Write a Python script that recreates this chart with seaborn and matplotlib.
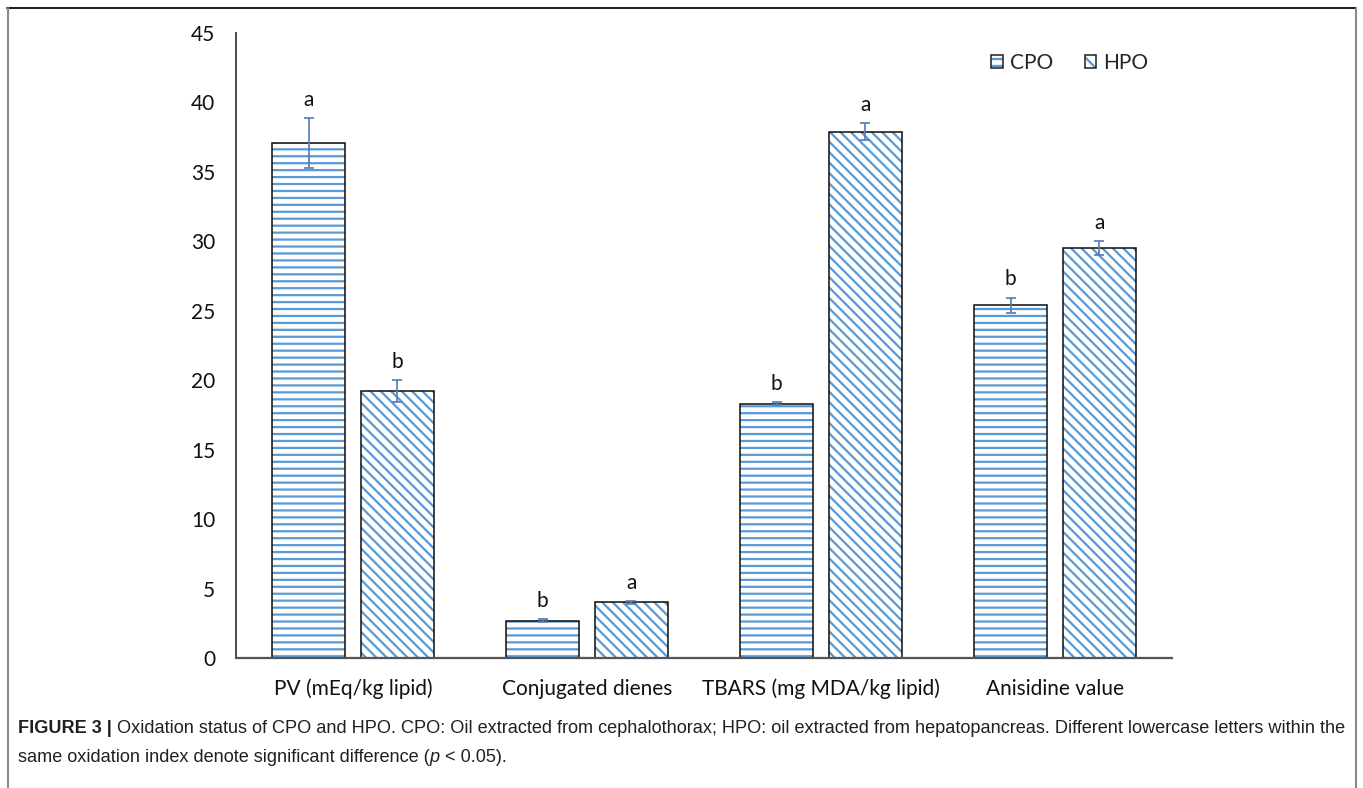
import numpy as np
import pandas as pd
import matplotlib
matplotlib.use("Agg")
import matplotlib.pyplot as plt
from matplotlib.lines import Line2D
from matplotlib.patches import Patch
from matplotlib.legend_handler import HandlerTuple
import seaborn as sns

# ---- data ----
categories = ["PV (mEq/kg lipid)", "Conjugated dienes",
              "TBARS (mg MDA/kg lipid)", "Anisidine value"]
oils = ["CPO", "HPO"]
cpo_values = [37.1, 2.7, 18.3, 25.4]
hpo_values = [19.2, 4.0, 37.9, 29.5]
cpo_errors = [1.8, 0.08, 0.1, 0.55]
hpo_errors = [0.8, 0.1, 0.6, 0.5]
cpo_letters = ["a", "b", "b", "b"]
hpo_letters = ["b", "a", "a", "a"]
y_ticks = [0, 5, 10, 15, 20, 25, 30, 35, 40, 45]

caption_bold = "FIGURE 3 |"
caption_line1 = (" Oxidation status of CPO and HPO. CPO: Oil extracted from cephalothorax; "
                 "HPO: oil extracted from hepatopancreas. Different lowercase letters within the")
caption_line2 = ["same oxidation index denote significant difference (", "p", " < 0.05)."]

BLUE = "#5B9BD5"
ERR = "#5a7db8"

sns.set_theme(style="white")
plt.rcParams["font.family"] = ["Lato", "DejaVu Sans"]
plt.rcParams["hatch.linewidth"] = 1.3

df = pd.DataFrame({
    "category": categories * 2,
    "oil": [oils[0]] * 4 + [oils[1]] * 4,
    "value": cpo_values + hpo_values,
})

DPI = 125
fig = plt.figure(figsize=(1363 / DPI, 788 / DPI), dpi=DPI)
ax = fig.add_axes([236 / 1363, 1 - 658 / 788, (1172 - 236) / 1363, (658 - 33) / 788])

# hatched fill
sns.barplot(data=df, x="category", y="value", hue="oil", hue_order=oils,
            order=categories, palette={o: "white" for o in oils},
            width=0.76, gap=0.184, errorbar=None, legend=False,
            saturation=1, linewidth=0, ax=ax)
hatches = ["---", "\\\\\\\\"]
fill_containers = list(ax.containers)
for cont, h in zip(fill_containers, hatches):
    for bar in cont:
        bar.set_hatch(h)
        bar.set_edgecolor(BLUE)
        bar.set_linewidth(0)

# black outlines
sns.barplot(data=df, x="category", y="value", hue="oil", hue_order=oils,
            order=categories, palette={o: "#111111" for o in oils},
            width=0.76, gap=0.184, errorbar=None, legend=False,
            fill=False, linewidth=0.9, ax=ax)

# error bars and significance letters
for cont, vals, errs, letters in zip(fill_containers,
                                     [cpo_values, hpo_values],
                                     [cpo_errors, hpo_errors],
                                     [cpo_letters, hpo_letters]):
    xs = [b.get_x() + b.get_width() / 2 for b in cont]
    ax.errorbar(xs, vals, yerr=errs, fmt="none", ecolor=ERR,
                elinewidth=1.0, capsize=2.6, capthick=1.0, zorder=5)
    for x, v, e, t in zip(xs, vals, errs, letters):
        ax.annotate(t, (x, v + e), xytext=(0, 7), textcoords="offset points",
                    ha="center", va="baseline", fontsize=12, color="#111111")

ax.set_xlim(-0.5, 3.5)
ax.set_ylim(0, 45)
ax.set_yticks(y_ticks)
ax.set_yticklabels([str(t) for t in y_ticks])
ax.set_xlabel("")
ax.set_ylabel("")
ax.tick_params(axis="y", length=0, pad=12, labelsize=12, labelcolor="#111111")
ax.tick_params(axis="x", length=0, pad=12, labelsize=12, labelcolor="#111111")
for s in ["top", "right"]:
    ax.spines[s].set_visible(False)
ax.spines["left"].set_color("#444444")
ax.spines["left"].set_linewidth(1.1)
ax.spines["bottom"].set_color("#555555")
ax.spines["bottom"].set_linewidth(1.3)

# legend: hatched swatch with a thin dark outline on top
handles = []
for h in ["---", "\\\\\\"]:
    swatch = Patch(facecolor="white", edgecolor=BLUE, hatch=h, linewidth=0)
    outline = Patch(facecolor="none", edgecolor="#222222", linewidth=0.9)
    handles.append((swatch, outline))
leg = fig.legend(handles, oils, loc="center left",
                 handler_map={tuple: HandlerTuple(ndivide=1, pad=0)},
                 bbox_to_anchor=(981 / 1363, 1 - 63 / 788), ncol=2, frameon=False,
                 handlelength=0.55, handleheight=0.55, handletextpad=0.35,
                 columnspacing=1.5, fontsize=12, borderpad=0)

# figure frame
fig.add_artist(Line2D([7 / 1363, 1356 / 1363], [1 - 8 / 788, 1 - 8 / 788],
                      transform=fig.transFigure, color="#222222", lw=1.2))
for xp in [7.5, 1355.5]:
    fig.add_artist(Line2D([xp / 1363, xp / 1363], [0, 1 - 8 / 788],
                          transform=fig.transFigure, color="#888888", lw=1.2))

# caption
cap_font = ["Liberation Sans Narrow", "Liberation Sans", "DejaVu Sans"]
cap_size = 10.45
cap_color = "#231f20"
fig.canvas.draw()
renderer = fig.canvas.get_renderer()


def chain(pieces, x0, y):
    x = x0
    for txt, kw in pieces:
        t = fig.text(x, y, txt, family=cap_font, fontsize=cap_size,
                     color=cap_color, ha="left", va="baseline", **kw)
        bb = t.get_window_extent(renderer)
        x = x + bb.width / fig.bbox.width


chain([(caption_bold, {"weight": "bold"}), (caption_line1, {})],
      18 / 1363, 1 - 733 / 788)
chain([(caption_line2[0], {}), (caption_line2[1], {"style": "italic"}),
       (caption_line2[2], {})], 18 / 1363, 1 - 762 / 788)

fig.savefig("out.png", dpi=DPI)
